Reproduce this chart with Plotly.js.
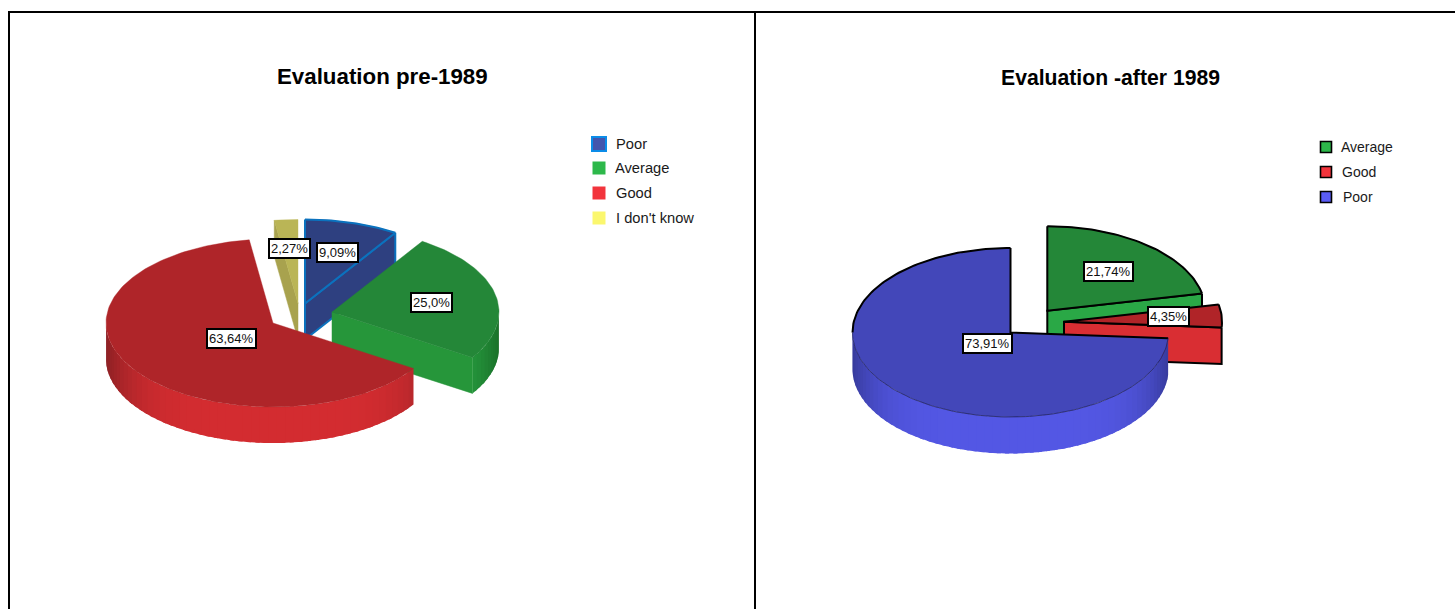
<!DOCTYPE html>
<html>
<head>
<meta charset="utf-8">
<script src="https://cdn.plot.ly/plotly-3.0.1.min.js"></script>
<style>html,body{margin:0;padding:0;background:#fff;overflow:hidden}#chart{width:1455px;height:609px}</style>
</head>
<body>
<div id="chart"></div>
<script>
// ---------- data ----------
const leftTitle = "Evaluation pre-1989";
const leftCategories = ["Poor", "Average", "Good", "I don't know"];
const leftValues = [9.09, 25.0, 63.64, 2.27];
const leftLabels = ["9,09%", "25,0%", "63,64%", "2,27%"];

const rightTitle = "Evaluation -after 1989";
const rightCategories = ["Average", "Good", "Poor"];
const rightValues = [21.74, 4.35, 73.91];
const rightLabels = ["21,74%", "4,35%", "73,91%"];

// ---------- styling / layout config ----------
const NAVY = {top:"#2e4080", cut:"#2e4080", rimMid:"#3a4c94", rimEdge:"#2a3a74", key:"#4355ad"};
const GREEN = {top:"#248738", cut:"#26963a", rimMid:"#2aa845", rimEdge:"#1a7029", key:"#2db84a"};
const RED = {top:"#af2529", cut:"#d92e33", rimMid:"#d32c30", rimEdge:"#8c2024", key:"#f2343c"};
const OLIVE = {top:"#bab556", cut:"#a8a24e", rimMid:"#bab556", rimEdge:"#a8a24e", key:"#fbf76e"};
const BLUE = {top:"#4347b9", cut:"#5357e4", rimMid:"#5357e4", rimEdge:"#373b9c", key:"#5a5cf5"};
const RGREEN = {top:"#248738", cut:"#2aa846", rimMid:"#2aa846", rimEdge:"#1a7029", key:"#2db84a"};
const RRED = {top:"#b02428", cut:"#d92e33", rimMid:"#d92e33", rimEdge:"#a02024", key:"#f2343c"};
const FONT = "Liberation Sans, Arial, sans-serif";

const leftPie = {
  xa:"x", ya:"y", rx:167, ry:84, depth:36, keyFont:14.7,
  slices:[
    {c:NAVY,  apex:[305,303.5], label:[337.5,252.5], outline:{color:"#0b72be", width:2}},
    {c:GREEN, apex:[332,312], label:[431,302]},
    {c:RED,   apex:[273,323], label:[231,338.5]},
    {c:OLIVE, apex:[298,303.5], label:[289,248.5]}
  ],
  order:[3,0,1,2],
  key:{x:599, textX:[615,613.5,615,615], y:[143.5,168,192.5,217.5], swatchY:[144,168,193,218], size:[14,13,13,13],
       line:[{color:"#0b8ce8",width:2},null,null,null]}
};
const rightPie = {
  xa:"x2", ya:"y2", rx:158, ry:84.5, depth:36.5, keyFont:14,
  slices:[
    {c:RGREEN, apex:[1047.3,310.7], label:[1108,271.5], outline:{color:"#000",width:2}},
    {c:RRED,   apex:[1064,321.7],   label:[1168,316.5], outline:{color:"#000",width:2}},
    {c:BLUE,   apex:[1010.5,332.5], label:[987,343.5],  outline:{color:"#000",width:2}}
  ],
  order:[0,1,2],
  key:{x:1326, textX:[1340,1341,1342], y:[146.5,171.5,196.5], swatchY:[147,172,197], size:[11,11,11],
       line:[{color:"#000",width:1.6},{color:"#000",width:1.6},{color:"#000",width:1.6}]}
};

// ---------- drawing helpers ----------
const rad = d => d*Math.PI/180;
const rimPoint = (s,p,deg,dz) => [s.apex[0]+p.rx*Math.sin(rad(deg)), s.apex[1]-p.ry*Math.cos(rad(deg))+(dz||0)];
function arc(s,p,a,b,dz){
  const n=Math.max(2,Math.ceil((b-a)/1.5)), pts=[];
  for(let i=0;i<=n;i++) pts.push(rimPoint(s,p,a+(b-a)*i/n,dz));
  return pts;
}
function poly(p,pts,fill,line){
  const t={type:"scatter",mode:line===false?"none":"lines",xaxis:p.xa,yaxis:p.ya,hoverinfo:"skip",showlegend:false,
    x:pts.map(q=>q[0]),y:pts.map(q=>q[1])};
  if(line!==false) t.line=line||{color:fill||"#000",width:0.6};
  if(fill){t.fill="toself";t.fillcolor=fill;}
  return t;
}
function mix(c1,c2,t){
  const h=c=>[1,3,5].map(i=>parseInt(c.slice(i,i+2),16));
  const A=h(c1),B=h(c2);
  return "rgb("+A.map((v,i)=>Math.round(v+(B[i]-v)*t)).join(",")+")";
}
function pieTraces(p,values){
  let cum=0;
  const ranges=values.map(v=>{const a=cum;cum+=v*3.6;return [a,Math.min(cum,360)];});
  const traces=[];
  p.order.forEach(i=>{
    const s=p.slices[i],[a,b]=ranges[i],o=s.outline;
    const apexLow=[s.apex[0],s.apex[1]+p.depth];
    const cut=deg=>[rimPoint(s,p,deg),rimPoint(s,p,deg,p.depth),apexLow,s.apex,rimPoint(s,p,deg)];
    const cutLine=o?{color:o.color,width:o.width}:{color:s.c.cut,width:0.5};
    // rim wall: shaded strips along the front half, each running under the next so no seam shows
    const lo=Math.max(a,90),hi=Math.min(b,270);
    if(hi>lo){
      const n=Math.ceil((hi-lo)/3);
      for(let k=0;k<n;k++){
        const d0=lo+(hi-lo)*k/n,d1=lo+(hi-lo)*(k+1)/n,mid=(d0+d1)/2;
        const end=k===n-1?d1:d1+1.5;
        const col=mix(s.c.rimMid,s.c.rimEdge,Math.pow(Math.abs(Math.sin(rad(mid))),5.5));
        const top=arc(s,p,d0,end),low=arc(s,p,d0,end,p.depth).reverse();
        traces.push(poly(p,top.concat(low).concat([top[0]]),col,false));
      }
    }
    // visible cut faces
    if(a>180&&a<360) traces.push(poly(p,cut(a),s.c.cut,cutLine));
    if(b>0&&b<180)   traces.push(poly(p,cut(b),s.c.cut,cutLine));
    // top face
    traces.push(poly(p,[s.apex].concat(arc(s,p,a,b)).concat([s.apex]),s.c.top,{color:s.c.top,width:0.4}));
    // outline
    if(o){
      const line={color:o.color,width:o.width};
      const frontSpan=Math.max(0,hi-lo);
      traces.push(poly(p,[rimPoint(s,p,a),s.apex,rimPoint(s,p,b)],null,line));
      if(frontSpan>90){
        if(b>270) traces.push(poly(p,arc(s,p,270,b),null,line));
        if(a<90)  traces.push(poly(p,arc(s,p,a,90),null,line));
        traces.push(poly(p,arc(s,p,lo,hi),null,{color:"#1c1e55",width:0.7}));
      } else {
        traces.push(poly(p,arc(s,p,a,b),null,line));
      }
    }
  });
  return traces;
}
function keyTraces(p,cats){
  return cats.map((name,i)=>{
    const k=p.key;
    return {type:"scatter",mode:"markers",name:name,xaxis:p.xa,yaxis:p.ya,hoverinfo:"skip",showlegend:false,
      x:[k.x],y:[k.swatchY[i]],
      marker:{symbol:"square",size:k.size[i],color:p.slices[i].c.key,line:k.line[i]||{width:0}}};
  });
}
function annots(p,cats,labels,title,titleX,titleY,titleSize){
  const out=[];
  labels.forEach((t,i)=>out.push({xref:p.xa,yref:p.ya,x:p.slices[i].label[0],y:p.slices[i].label[1],text:t,showarrow:false,
    xanchor:"center",yanchor:"middle",bgcolor:"#fff",bordercolor:"#000",borderwidth:2,borderpad:1,
    font:{family:FONT,size:13,color:"#111"}}));
  cats.forEach((t,i)=>out.push({xref:p.xa,yref:p.ya,x:p.key.textX[i],y:p.key.y[i],text:t,showarrow:false,
    xanchor:"left",yanchor:"middle",xshift:-1,font:{family:FONT,size:p.keyFont,color:"#1a1a1a"}}));
  out.push({xref:p.xa,yref:p.ya,x:titleX,y:titleY,text:"<b>"+title+"</b>",showarrow:false,xanchor:"center",yanchor:"middle",
    font:{family:FONT,size:titleSize,color:"#000"}});
  return out;
}

const data=[].concat(
  pieTraces(leftPie,leftValues),keyTraces(leftPie,leftCategories),
  pieTraces(rightPie,rightValues),keyTraces(rightPie,rightCategories));

const split=755/1455;
const hidden=r=>({range:r,visible:false,fixedrange:true});
const px=v=>v/1455;
const py=v=>1-v/609;
const frame={color:"#000",width:2};
const layout={
  width:1455,height:609,margin:{l:0,r:0,t:0,b:0},paper_bgcolor:"#fff",plot_bgcolor:"rgba(0,0,0,0)",showlegend:false,
  xaxis:Object.assign(hidden([0,755]),{domain:[0,split],anchor:"y"}),
  yaxis:Object.assign(hidden([609,0]),{domain:[0,1],anchor:"x"}),
  xaxis2:Object.assign(hidden([755,1455]),{domain:[split,1],anchor:"y2"}),
  yaxis2:Object.assign(hidden([609,0]),{domain:[0,1],anchor:"x2"}),
  annotations:[].concat(
    annots(leftPie,leftCategories,leftLabels,leftTitle,382.5,76.5,22.3),
    annots(rightPie,rightCategories,rightLabels,rightTitle,1110.5,77.5,21.2)),
  shapes:[
    {type:"line",xref:"paper",yref:"paper",x0:px(8),x1:1,y0:py(12),y1:py(12),line:frame},
    {type:"line",xref:"paper",yref:"paper",x0:px(9),x1:px(9),y0:py(11),y1:0,line:frame},
    {type:"line",xref:"paper",yref:"paper",x0:px(755),x1:px(755),y0:py(11),y1:0,line:frame}
  ]
};
Plotly.newPlot("chart",data,layout,{staticPlot:true,displayModeBar:false});
</script>
</body>
</html>
